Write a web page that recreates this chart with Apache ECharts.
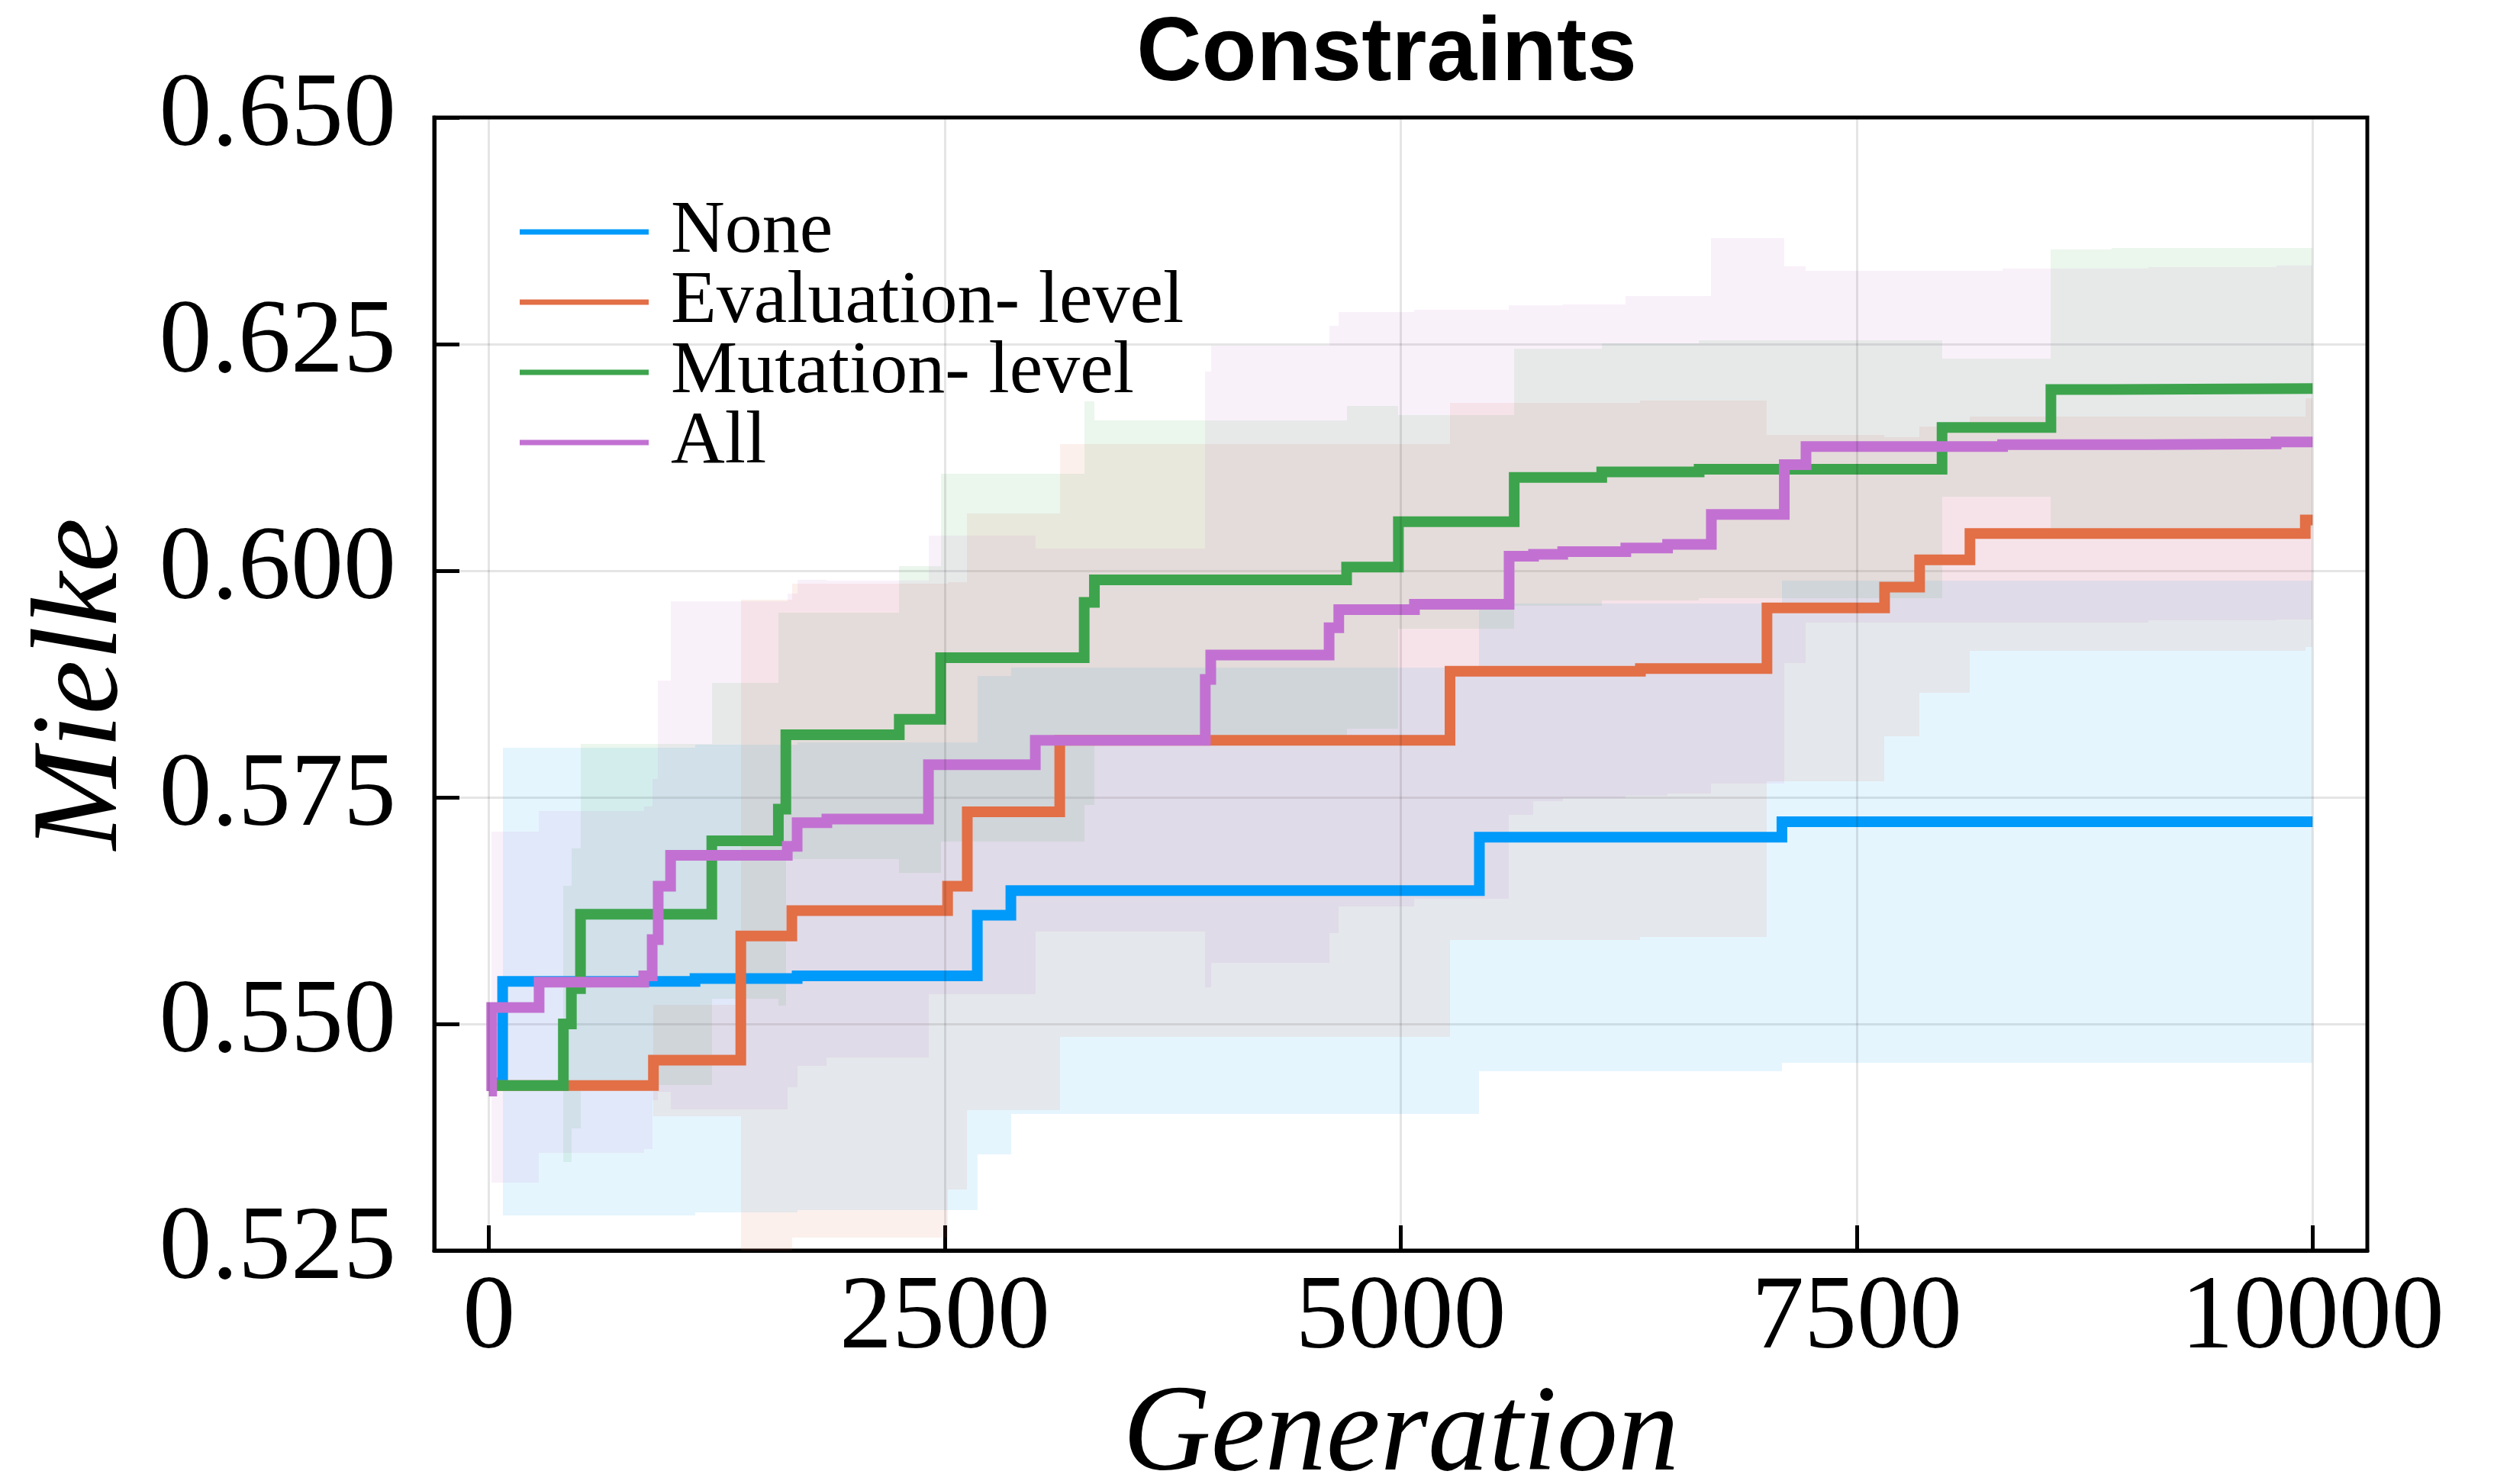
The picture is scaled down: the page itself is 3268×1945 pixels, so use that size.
<!DOCTYPE html>
<html>
<head>
<meta charset="utf-8">
<script src="https://cdn.jsdelivr.net/npm/echarts@6/dist/echarts.min.js"></script>
<style>
  html, body { margin: 0; padding: 0; background: #ffffff; }
  #chart { width: 3268px; height: 1945px; }
</style>
</head>
<body>
<div id="chart"></div>
<script>
// Axis ticks
const xTicks = [0, 2500, 5000, 7500, 10000];
const yTicks = [0.525, 0.550, 0.575, 0.600, 0.625, 0.650];

// None: best-so-far mean with its spread band (step change points)
const noneGen   = [0, 75, 1130, 1690, 2678, 2862, 5431, 7090, 10000];
const noneMean  = [0.5435, 0.5547, 0.5550, 0.5553, 0.5620, 0.5647, 0.5706, 0.5723, 0.5723];
const noneLower = [0.5435, 0.5289, 0.5292, 0.5295, 0.5356, 0.5401, 0.5448, 0.5457, 0.5457];
const noneUpper = [0.5435, 0.5805, 0.5808, 0.5811, 0.5884, 0.5893, 0.5964, 0.5989, 0.5989];

// Evaluation-level
const evalGen   = [0, 902, 1381, 1661, 2515, 2623, 3130, 5270, 6314, 7008, 7653, 7845, 8121, 9960, 10000];
const evalMean  = [0.5432, 0.5460, 0.5597, 0.5625, 0.5652, 0.5734, 0.5813, 0.5889, 0.5892, 0.5959, 0.5982, 0.6012, 0.6041, 0.6056, 0.6056];
const evalLower = [0.5432, 0.5398, 0.5226, 0.5264, 0.5317, 0.5405, 0.5486, 0.5593, 0.5596, 0.5768, 0.5817, 0.5865, 0.5912, 0.5916, 0.5916];
const evalUpper = [0.5432, 0.5521, 0.5968, 0.5986, 0.5987, 0.6063, 0.6140, 0.6185, 0.6188, 0.6150, 0.6147, 0.6159, 0.6170, 0.6190, 0.6190];

// Mutation-level
const mutGen   = [0, 408, 452, 502, 1222, 1587, 1628, 2250, 2477, 3264, 3320, 4703, 4987, 5622, 6102, 6636, 7968, 8565, 8900, 10000];
const mutMean  = [0.5432, 0.5500, 0.5539, 0.5621, 0.5702, 0.5737, 0.5819, 0.5836, 0.5904, 0.5965, 0.5990, 0.6004, 0.6054, 0.6103, 0.6109, 0.6112, 0.6158, 0.6200, 0.6201, 0.6201];
const mutLower = [0.5432, 0.5348, 0.5385, 0.5433, 0.5528, 0.5520, 0.5682, 0.5667, 0.5701, 0.5742, 0.5814, 0.5826, 0.5936, 0.5961, 0.5967, 0.5970, 0.6082, 0.6046, 0.6047, 0.6047];
const mutUpper = [0.5432, 0.5652, 0.5694, 0.5809, 0.5876, 0.5954, 0.5954, 0.6005, 0.6107, 0.6187, 0.6166, 0.6182, 0.6172, 0.6245, 0.6251, 0.6254, 0.6234, 0.6354, 0.6356, 0.6356];

// All
const allGen   = [0, 15, 275, 849, 895, 928, 996, 1636, 1690, 1853, 2410, 2996, 3928, 3958, 4607, 4660, 5075, 5594, 5728, 5888, 6234, 6463, 6703, 7103, 7222, 8300, 9100, 9800, 10000];
const allMean  = [0.5426, 0.5518, 0.5546, 0.5553, 0.5593, 0.5652, 0.5686, 0.5696, 0.5722, 0.5726, 0.5786, 0.5813, 0.5880, 0.5907, 0.5937, 0.5957, 0.5963, 0.6016, 0.6018, 0.6021, 0.6025, 0.6029, 0.6062, 0.6117, 0.6137, 0.6139, 0.6140, 0.6142, 0.6142];
const allLower = [0.5426, 0.5325, 0.5358, 0.5362, 0.5416, 0.5425, 0.5406, 0.5430, 0.5454, 0.5463, 0.5533, 0.5602, 0.5540, 0.5567, 0.5600, 0.5630, 0.5638, 0.5731, 0.5746, 0.5749, 0.5752, 0.5754, 0.5765, 0.5898, 0.5943, 0.5943, 0.5945, 0.5946, 0.5946];
const allUpper = [0.5426, 0.5712, 0.5735, 0.5740, 0.5770, 0.5879, 0.5966, 0.5975, 0.5990, 0.5989, 0.6039, 0.6024, 0.6220, 0.6248, 0.6270, 0.6285, 0.6288, 0.6293, 0.6293, 0.6294, 0.6303, 0.6303, 0.6367, 0.6336, 0.6331, 0.6333, 0.6335, 0.6337, 0.6337];

const groups = [
  { name: 'None',              color: '#009AFA', gen: noneGen, mean: noneMean, lower: noneLower, upper: noneUpper },
  { name: 'Evaluation- level', color: '#E26F46', gen: evalGen, mean: evalMean, lower: evalLower, upper: evalUpper },
  { name: 'Mutation- level',   color: '#3DA44D', gen: mutGen,  mean: mutMean,  lower: mutLower,  upper: mutUpper },
  { name: 'All',               color: '#C271D2', gen: allGen,  mean: allMean,  lower: allLower,  upper: allUpper }
];

const serif = 'Liberation Serif';

function rgba(hex, a) {
  const n = parseInt(hex.slice(1), 16);
  return 'rgba(' + (n >> 16 & 255) + ',' + (n >> 8 & 255) + ',' + (n & 255) + ',' + a + ')';
}

// One rectangle per constant stretch of the ribbon: [x0, x1, lower, upper]
function bandItems(g) {
  const out = [];
  for (let i = 0; i < g.gen.length - 1; i++) {
    out.push([g.gen[i], g.gen[i + 1], g.lower[i], g.upper[i]]);
  }
  return out;
}

function bandRenderer(fill) {
  return function (params, api) {
    const a = api.coord([api.value(0), api.value(3)]);
    const b = api.coord([api.value(1), api.value(2)]);
    const x0 = Math.round(a[0]), x1 = Math.round(b[0]);
    const y0 = Math.round(a[1]), y1 = Math.round(b[1]);
    const cs = params.coordSys;
    const shape = echarts.graphic.clipRectByRect(
      { x: x0, y: y0, width: x1 - x0, height: y1 - y0 },
      { x: cs.x, y: cs.y, width: cs.width, height: cs.height }
    );
    if (!shape) return null;
    return { type: 'rect', shape: shape, style: { fill: fill } };
  };
}

const series = [];
groups.forEach(function (g, idx) {
  const band = {
    type: 'custom',
    name: g.name + ' ribbon',
    renderItem: bandRenderer(rgba(g.color, 0.1)),
    encode: { x: [0, 1], y: [2, 3] },
    data: bandItems(g),
    silent: true
  };
  if (idx === 0) {
    // vertical grid lines at the labelled generations
    band.markLine = {
      silent: true,
      symbol: 'none',
      label: { show: false },
      lineStyle: { color: 'rgba(0,0,0,0.1)', width: 3, type: 'solid' },
      data: xTicks.map(function (v) { return { xAxis: v }; })
    };
  }
  series.push(band);
  series.push({
    type: 'line',
    name: g.name,
    step: 'end',
    symbol: 'none',
    showSymbol: false,
    data: g.gen.map(function (x, i) { return [x, g.mean[i]]; }),
    lineStyle: { color: g.color, width: 14, join: 'miter', cap: 'butt' },
    itemStyle: { color: g.color },
    silent: true
  });
});

const chart = echarts.init(document.getElementById('chart'), null, { renderer: 'canvas' });
chart.setOption({
  animation: false,
  backgroundColor: '#ffffff',
  title: {
    text: 'Constraints',
    left: 1812,
    top: 8,
    textAlign: 'center',
    textStyle: { fontFamily: 'Liberation Sans', fontWeight: 'bold', fontSize: 118, color: '#000' }
  },
  legend: {
    orient: 'vertical',
    left: 681,
    top: 255,
    padding: 0,
    itemGap: -6,
    itemWidth: 169,
    itemHeight: 7,
    icon: 'rect',
    data: groups.map(function (g) { return g.name; }),
    textStyle: { fontFamily: serif, fontSize: 98, color: '#000', lineHeight: 92, padding: [0, 0, 0, 24] }
  },
  grid: {
    left: 569, top: 154, width: 2533, height: 1485,
    show: true, borderColor: '#000', borderWidth: 5, backgroundColor: 'transparent',
    containLabel: false, outerBoundsMode: 'none'
  },
  xAxis: {
    type: 'value',
    min: -300, max: 10300,
    name: 'Generation',
    nameLocation: 'middle',
    nameGap: 150,
    nameTextStyle: { fontFamily: serif, fontStyle: 'italic', fontSize: 160, color: '#000' },
    axisLine: { show: true, onZero: false, lineStyle: { color: '#000', width: 5 } },
    axisTick: { show: true, inside: true, length: 33, lineStyle: { color: '#000', width: 5 }, customValues: xTicks },
    axisLabel: {
      fontFamily: serif, fontSize: 138, color: '#000', margin: 22, customValues: xTicks,
      formatter: function (v) { return String(Math.round(v)); }
    },
    splitLine: { show: false }
  },
  yAxis: {
    type: 'value',
    min: yTicks[0], max: yTicks[yTicks.length - 1], interval: 0.025,
    name: 'Mielke',
    nameLocation: 'middle',
    nameGap: 379,
    nameTextStyle: { fontFamily: serif, fontStyle: 'italic', fontSize: 160, color: '#000' },
    axisLine: { show: true, onZero: false, lineStyle: { color: '#000', width: 5 } },
    axisTick: { show: true, inside: true, length: 33, lineStyle: { color: '#000', width: 5 } },
    axisLabel: {
      fontFamily: serif, fontSize: 138, color: '#000', margin: 50,
      formatter: function (v) { return v.toFixed(3); }
    },
    splitLine: { show: true, lineStyle: { color: 'rgba(0,0,0,0.1)', width: 3 } }
  },
  series: series
});
</script>
</body>
</html>
